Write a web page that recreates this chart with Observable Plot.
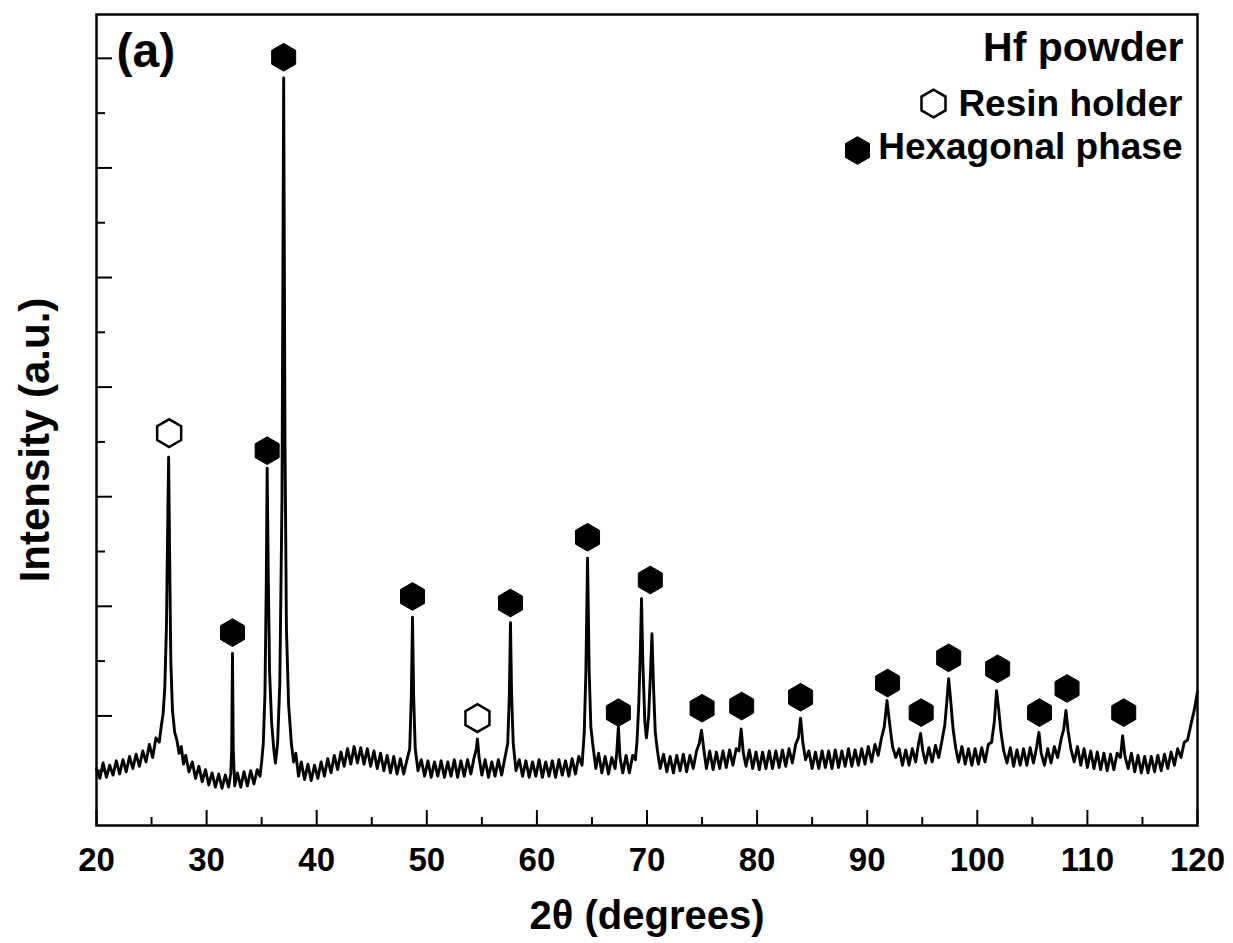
<!DOCTYPE html>
<html>
<head>
<meta charset="utf-8">
<script src="https://cdn.jsdelivr.net/npm/d3@7"></script>
<script src="https://cdn.jsdelivr.net/npm/@observablehq/plot@0.6"></script>
<style>
  html, body { margin: 0; padding: 0; background: #fff; }
</style>
</head>
<body>
<div id="chart"></div>
<script>
// XRD pattern of Hf powder: [2θ (degrees), intensity (a.u.)]
const pattern = [
  [20.0,0.52],[20.3,0.43],[20.6,0.57],[20.9,0.44],[21.2,0.55],[21.5,0.46],[21.8,0.59],[22.1,0.47],
  [22.4,0.60],[22.7,0.49],[23.0,0.63],[23.3,0.52],[23.6,0.65],[23.9,0.54],[24.2,0.68],[24.5,0.58],
  [24.8,0.74],[25.1,0.62],[25.4,0.80],[25.7,0.76],[25.9,0.92],[26.05,1.02],[26.2,1.25],[26.35,1.8],
  [26.45,2.6],[26.55,3.36],[26.65,2.4],[26.75,1.5],[26.9,1.05],[27.1,0.85],[27.3,0.78],[27.5,0.66],
  [27.7,0.72],[27.9,0.56],[28.1,0.64],[28.4,0.49],[28.7,0.58],[29.0,0.43],[29.3,0.54],[29.6,0.40],
  [29.9,0.51],[30.2,0.37],[30.5,0.48],[30.8,0.35],[31.1,0.47],[31.4,0.34],[31.7,0.46],[32.0,0.35],
  [32.2,0.48],[32.28,0.7],[32.35,1.57],[32.42,0.7],[32.55,0.36],[32.8,0.48],[33.1,0.35],[33.4,0.49],
  [33.7,0.36],[34.0,0.50],[34.3,0.38],[34.6,0.51],[34.85,0.45],[35.0,0.58],[35.15,0.75],[35.3,1.2],
  [35.42,2.2],[35.5,3.26],[35.6,2.3],[35.72,1.4],[35.9,0.95],[36.1,0.7],[36.25,0.57],[36.45,0.75],
  [36.65,1.3],[36.85,3.0],[37.0,6.82],[37.12,3.5],[37.25,1.8],[37.45,1.1],[37.7,0.75],[37.9,0.58],
  [38.1,0.66],[38.35,0.45],[38.6,0.58],[38.9,0.42],[39.2,0.56],[39.5,0.41],[39.8,0.55],[40.1,0.43],
  [40.4,0.58],[40.7,0.45],[41.0,0.61],[41.3,0.48],[41.6,0.64],[41.9,0.51],[42.2,0.67],[42.5,0.54],
  [42.8,0.70],[43.1,0.56],[43.4,0.72],[43.7,0.57],[44.0,0.71],[44.3,0.56],[44.6,0.70],[44.9,0.54],
  [45.2,0.68],[45.5,0.52],[45.8,0.66],[46.1,0.50],[46.4,0.64],[46.7,0.48],[47.0,0.63],[47.3,0.47],
  [47.6,0.61],[47.9,0.47],[48.2,0.60],[48.45,0.7],[48.6,1.2],[48.7,1.90],[48.8,1.2],[48.95,0.7],
  [49.2,0.50],[49.5,0.60],[49.8,0.45],[50.1,0.59],[50.4,0.44],[50.7,0.58],[51.0,0.45],[51.3,0.59],
  [51.6,0.44],[51.9,0.58],[52.2,0.45],[52.5,0.60],[52.8,0.44],[53.1,0.59],[53.4,0.45],[53.7,0.60],
  [54.0,0.47],[54.3,0.62],[54.5,0.70],[54.6,0.79],[54.75,0.62],[55.0,0.46],[55.3,0.60],[55.6,0.44],
  [55.9,0.58],[56.2,0.45],[56.5,0.60],[56.8,0.46],[57.1,0.62],[57.35,0.75],[57.5,1.2],[57.6,1.85],
  [57.7,1.2],[57.85,0.75],[58.1,0.50],[58.4,0.60],[58.7,0.45],[59.0,0.59],[59.3,0.44],[59.6,0.58],
  [59.9,0.45],[60.2,0.60],[60.5,0.44],[60.8,0.58],[61.1,0.45],[61.4,0.59],[61.7,0.44],[62.0,0.60],
  [62.3,0.46],[62.6,0.59],[62.9,0.45],[63.2,0.61],[63.5,0.47],[63.8,0.63],[64.1,0.55],[64.3,0.85],
  [64.45,1.4],[64.6,2.44],[64.75,1.4],[64.9,0.9],[65.1,0.72],[65.35,0.52],[65.6,0.66],[65.9,0.48],
  [66.2,0.63],[66.5,0.47],[66.8,0.62],[67.1,0.52],[67.25,0.66],[67.4,0.90],[67.55,0.62],[67.8,0.48],
  [68.1,0.64],[68.4,0.48],[68.7,0.64],[68.95,0.60],[69.1,0.78],[69.25,1.1],[69.4,1.6],[69.5,2.07],
  [69.62,1.5],[69.8,0.95],[69.95,0.80],[70.15,1.0],[70.32,1.4],[70.45,1.75],[70.58,1.3],[70.75,0.85],
  [70.95,0.68],[71.2,0.52],[71.5,0.65],[71.8,0.49],[72.1,0.63],[72.4,0.48],[72.7,0.64],[73.0,0.50],
  [73.3,0.65],[73.6,0.49],[73.9,0.64],[74.2,0.52],[74.5,0.68],[74.75,0.75],[74.95,0.87],[75.15,0.70],
  [75.4,0.52],[75.7,0.68],[76.0,0.51],[76.3,0.67],[76.6,0.52],[76.9,0.68],[77.2,0.53],[77.5,0.69],
  [77.8,0.55],[78.1,0.70],[78.35,0.68],[78.55,0.88],[78.75,0.66],[79.0,0.54],[79.3,0.69],[79.6,0.52],
  [79.9,0.67],[80.2,0.51],[80.5,0.67],[80.8,0.52],[81.1,0.68],[81.4,0.52],[81.7,0.68],[82.0,0.53],
  [82.3,0.69],[82.6,0.54],[82.9,0.70],[83.2,0.57],[83.5,0.74],[83.75,0.80],[83.95,0.98],[84.15,0.76],
  [84.4,0.60],[84.7,0.68],[85.0,0.52],[85.3,0.67],[85.6,0.52],[85.9,0.68],[86.2,0.53],[86.5,0.68],
  [86.8,0.52],[87.1,0.69],[87.4,0.53],[87.7,0.68],[88.0,0.54],[88.3,0.70],[88.6,0.54],[88.9,0.69],
  [89.2,0.55],[89.5,0.70],[89.8,0.56],[90.1,0.72],[90.4,0.58],[90.7,0.74],[91.0,0.64],[91.3,0.80],
  [91.55,0.90],[91.8,1.14],[92.05,0.92],[92.3,0.72],[92.6,0.62],[92.9,0.70],[93.2,0.55],[93.5,0.69],
  [93.8,0.55],[94.1,0.70],[94.4,0.58],[94.65,0.74],[94.85,0.84],[95.05,0.68],[95.3,0.57],[95.6,0.71],
  [95.9,0.58],[96.2,0.73],[96.5,0.62],[96.8,0.78],[97.05,0.92],[97.25,1.15],[97.4,1.34],[97.6,1.12],
  [97.8,0.88],[98.05,0.70],[98.3,0.58],[98.6,0.72],[98.9,0.56],[99.2,0.70],[99.5,0.55],[99.8,0.70],
  [100.1,0.56],[100.4,0.71],[100.7,0.58],[101.0,0.74],[101.3,0.76],[101.55,0.95],[101.75,1.23],[101.95,1.05],
  [102.15,0.85],[102.4,0.68],[102.7,0.57],[103.0,0.71],[103.3,0.54],[103.6,0.69],[103.9,0.55],[104.2,0.70],
  [104.5,0.55],[104.8,0.71],[105.1,0.57],[105.4,0.72],[105.6,0.85],[105.8,0.66],[106.1,0.55],[106.4,0.70],
  [106.7,0.57],[107.0,0.72],[107.3,0.62],[107.6,0.78],[107.85,0.88],[108.05,1.05],[108.25,0.86],[108.5,0.70],
  [108.8,0.58],[109.1,0.72],[109.4,0.55],[109.7,0.70],[110.0,0.53],[110.3,0.68],[110.6,0.52],[110.9,0.67],
  [111.2,0.51],[111.5,0.66],[111.8,0.50],[112.1,0.65],[112.4,0.51],[112.7,0.66],[113.0,0.62],[113.2,0.82],
  [113.4,0.64],[113.7,0.52],[114.0,0.66],[114.3,0.49],[114.6,0.64],[114.9,0.48],[115.2,0.63],[115.5,0.48],
  [115.8,0.63],[116.1,0.49],[116.4,0.64],[116.7,0.50],[117.0,0.65],[117.3,0.52],[117.6,0.67],[117.9,0.55],
  [118.2,0.70],[118.5,0.62],[118.8,0.76],[119.1,0.78],[119.4,0.92],[119.7,1.05],[120.0,1.22]
];

// Peak markers [2θ, marker height]
const resinPeaks = [[26.6, 3.58], [54.6, 0.98]];
const hexPeaks = [
  [32.35, 1.76], [35.5, 3.42], [37.0, 7.01], [48.7, 2.09], [57.6, 2.03], [64.6, 2.63],
  [67.4, 1.03], [70.3, 2.24], [75.0, 1.07], [78.6, 1.09], [83.95, 1.17], [91.85, 1.30],
  [94.9, 1.03], [97.4, 1.53], [101.85, 1.43], [105.65, 1.03], [108.15, 1.25], [113.3, 1.03]
];

// Axis ticks
const xMajor = [20, 30, 40, 50, 60, 70, 80, 90, 100, 110, 120];
const xMinor = [25, 35, 45, 55, 65, 75, 85, 95, 105, 115];
const yMajor = [1, 2, 3, 4, 5, 6, 7];
const yMinor = [0.5, 1.5, 2.5, 3.5, 4.5, 5.5, 6.5];

// Texts
const panelLabel = "(a)";
const sampleLabel = "Hf powder";
const legendResin = "Resin holder";
const legendHex = "Hexagonal phase";
const xTitle = "2θ (degrees)";
const yTitle = "Intensity (a.u.)";

const W = 1233, H = 943;
const mL = 96, mR = 36, mT = 14, mB = 118;
const innerW = W - mL - mR, innerH = H - mT - mB;
const font = "'Liberation Sans', Arial, Helvetica, sans-serif";

const chart = Plot.plot({
  width: W,
  height: H,
  marginLeft: mL,
  marginRight: mR,
  marginTop: mT,
  marginBottom: mB,
  style: {fontFamily: font, fontWeight: "bold", background: "#fff", color: "#000"},
  x: {domain: [20, 120], axis: null},
  y: {domain: [0, 7.4], axis: null},
  marks: [
    // ticks (inside)
    Plot.ruleX(xMajor, {x: d => d, insetTop: innerH - 15, stroke: "#000", strokeWidth: 2}),
    Plot.ruleX(xMinor, {x: d => d, insetTop: innerH - 8, stroke: "#000", strokeWidth: 2}),
    Plot.ruleY(yMajor, {y: d => d, insetRight: innerW - 16, stroke: "#000", strokeWidth: 2}),
    Plot.ruleY(yMinor, {y: d => d, insetRight: innerW - 9, stroke: "#000", strokeWidth: 2}),
    // tick labels
    Plot.text(xMajor, {x: d => d, frameAnchor: "bottom", dy: 45, lineAnchor: "bottom",
      text: d => String(d), fontSize: 33, fontWeight: "bold", fill: "#000"}),
    // pattern
    Plot.line(pattern, {x: d => d[0], y: d => d[1], stroke: "#000", strokeWidth: 2.9, strokeLinejoin: "round"}),
    // peak markers
    Plot.dot(resinPeaks, {x: d => d[0], y: d => d[1], symbol: "hexagon", r: 12, fill: "#fff", stroke: "#000", strokeWidth: 2.5}),
    Plot.dot(hexPeaks, {x: d => d[0], y: d => d[1], symbol: "hexagon", r: 12, fill: "#000", stroke: "#000", strokeWidth: 1}),
    // frame
    Plot.frame({stroke: "#000", strokeWidth: 2.5}),
    // panel label
    Plot.text([panelLabel], {frameAnchor: "top-left", dx: 20, dy: 52, lineAnchor: "bottom", textAnchor: "start",
      text: d => d, fontSize: 48, fontWeight: "bold", fill: "#000"}),
    // legend
    Plot.text([sampleLabel], {frameAnchor: "top-right", dx: -14, dy: 46, lineAnchor: "bottom", textAnchor: "end",
      text: d => d, fontSize: 41, fontWeight: "bold", fill: "#000"}),
    Plot.text([legendResin], {frameAnchor: "top-right", dx: -15, dy: 101, lineAnchor: "bottom", textAnchor: "end",
      text: d => d, fontSize: 37, fontWeight: "bold", fill: "#000"}),
    Plot.text([legendHex], {frameAnchor: "top-right", dx: -15, dy: 144, lineAnchor: "bottom", textAnchor: "end",
      text: d => d, fontSize: 37, fontWeight: "bold", fill: "#000"}),
    Plot.dot([legendResin], {frameAnchor: "top-right", dx: -264, dy: 89, symbol: "hexagon", r: 12,
      fill: "#fff", stroke: "#000", strokeWidth: 2.5}),
    Plot.dot([legendHex], {frameAnchor: "top-right", dx: -340, dy: 136, symbol: "hexagon", r: 12,
      fill: "#000", stroke: "#000", strokeWidth: 1}),
    // axis titles
    Plot.text([xTitle], {frameAnchor: "bottom", dy: 103, lineAnchor: "bottom", textAnchor: "middle", text: d => d,
      fontSize: 40, fontWeight: "bold", fill: "#000"}),
    Plot.text([yTitle], {frameAnchor: "left", dx: -48, dy: 20, rotate: -90, lineAnchor: "bottom", textAnchor: "middle",
      text: d => d, fontSize: 42, fontWeight: "bold", fill: "#000"})
  ]
});
document.getElementById("chart").appendChild(chart);
</script>
</body>
</html>
